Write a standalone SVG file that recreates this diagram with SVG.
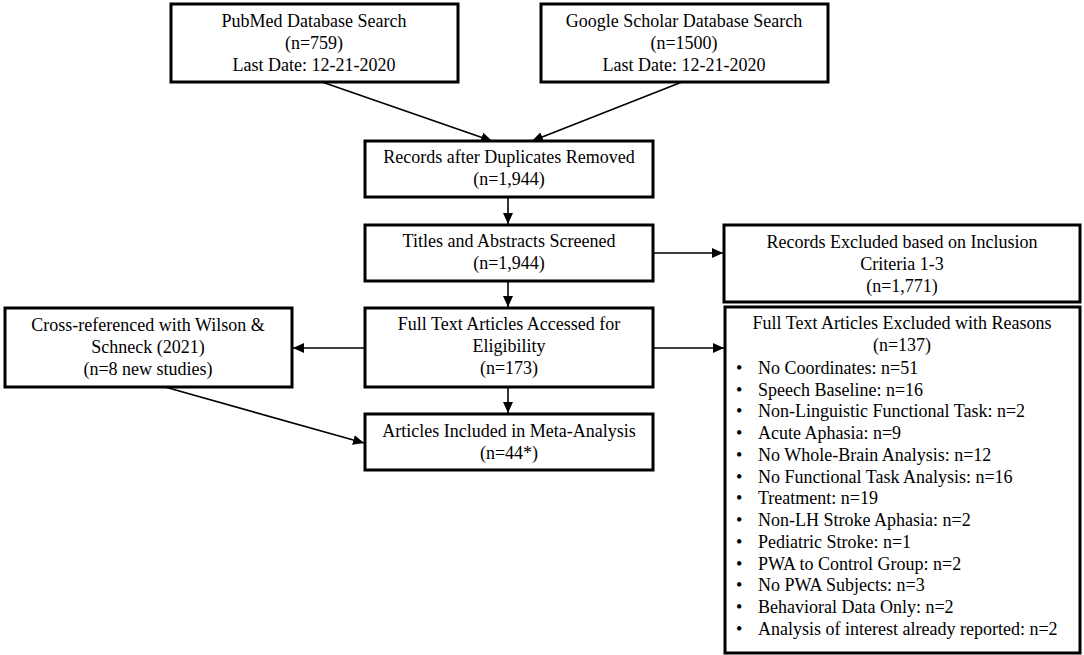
<svg xmlns="http://www.w3.org/2000/svg" width="1084" height="655" viewBox="0 0 1084 655">
<style>
.box{fill:#fff;stroke:#000;stroke-width:3}
text{font-family:"Liberation Serif","Times New Roman",serif;font-size:18px;fill:#000}
.c{text-anchor:middle}
.ln{stroke:#000;stroke-width:1.6;fill:none}
</style>
<defs>
<marker id="ah" markerUnits="userSpaceOnUse" markerWidth="12" markerHeight="10" refX="11" refY="5" orient="auto">
<path d="M0,0 L11,5 L0,10 Z" fill="#000"/>
</marker>
</defs>
<rect width="1084" height="655" fill="#fff"/>
<g id="connectors">
<line class="ln" x1="322" y1="82" x2="492" y2="141" marker-end="url(#ah)"/>
<line class="ln" x1="682" y1="82" x2="532" y2="141" marker-end="url(#ah)"/>
<line class="ln" x1="508" y1="197" x2="508" y2="224" marker-end="url(#ah)"/>
<line class="ln" x1="508" y1="281" x2="508" y2="307" marker-end="url(#ah)"/>
<line class="ln" x1="653" y1="253" x2="723" y2="253" marker-end="url(#ah)"/>
<line class="ln" x1="365" y1="348" x2="293" y2="348" marker-end="url(#ah)"/>
<line class="ln" x1="653" y1="348" x2="724" y2="348" marker-end="url(#ah)"/>
<line class="ln" x1="508" y1="387" x2="508" y2="413" marker-end="url(#ah)"/>
<line class="ln" x1="165" y1="387" x2="364" y2="443" marker-end="url(#ah)"/>
</g>
<g id="pubmed">
<rect class="box" x="171" y="4" width="287" height="78"/>
<text class="c" x="314" y="27">PubMed Database Search</text>
<text class="c" x="314" y="49">(n=759)</text>
<text class="c" x="314" y="71">Last Date: 12-21-2020</text>
</g>
<g id="scholar">
<rect class="box" x="541" y="4" width="287" height="78"/>
<text class="c" x="684" y="27">Google Scholar Database Search</text>
<text class="c" x="684" y="49">(n=1500)</text>
<text class="c" x="684" y="71">Last Date: 12-21-2020</text>
</g>
<g id="records">
<rect class="box" x="365" y="141" width="288" height="56"/>
<text class="c" x="509" y="163">Records after Duplicates Removed</text>
<text class="c" x="509" y="185">(n=1,944)</text>
</g>
<g id="titles">
<rect class="box" x="365" y="225" width="288" height="56"/>
<text class="c" x="509" y="247">Titles and Abstracts Screened</text>
<text class="c" x="509" y="269">(n=1,944)</text>
</g>
<g id="excluded1">
<rect class="box" x="724" y="225" width="356" height="77"/>
<text class="c" x="902" y="248">Records Excluded based on Inclusion</text>
<text class="c" x="902" y="270">Criteria 1-3</text>
<text class="c" x="902" y="292">(n=1,771)</text>
</g>
<g id="fulltext">
<rect class="box" x="365" y="308" width="288" height="79"/>
<text class="c" x="509" y="330">Full Text Articles Accessed for</text>
<text class="c" x="509" y="352">Eligibility</text>
<text class="c" x="509" y="374">(n=173)</text>
</g>
<g id="crossref">
<rect class="box" x="5" y="308" width="287" height="79"/>
<text class="c" x="148" y="331">Cross-referenced with Wilson &amp;</text>
<text class="c" x="148" y="353">Schneck (2021)</text>
<text class="c" x="148" y="375">(n=8 new studies)</text>
</g>
<g id="included">
<rect class="box" x="365" y="414" width="288" height="56"/>
<text class="c" x="509" y="437">Articles Included in Meta-Analysis</text>
<text class="c" x="509" y="459">(n=44*)</text>
</g>
<g id="excluded2">
<rect class="box" x="725" y="307" width="355" height="346"/>
<text class="c" x="902" y="329">Full Text Articles Excluded with Reasons</text>
<text class="c" x="902" y="351">(n=137)</text>
<g>
<text x="736" y="374">•</text><text x="758" y="374">No Coordinates: n=51</text>
<text x="736" y="396">•</text><text x="758" y="396">Speech Baseline: n=16</text>
<text x="736" y="417">•</text><text x="758" y="417">Non-Linguistic Functional Task: n=2</text>
<text x="736" y="439">•</text><text x="758" y="439">Acute Aphasia: n=9</text>
<text x="736" y="461">•</text><text x="758" y="461">No Whole-Brain Analysis: n=12</text>
<text x="736" y="483">•</text><text x="758" y="483">No Functional Task Analysis: n=16</text>
<text x="736" y="504">•</text><text x="758" y="504">Treatment: n=19</text>
<text x="736" y="526">•</text><text x="758" y="526">Non-LH Stroke Aphasia: n=2</text>
<text x="736" y="548">•</text><text x="758" y="548">Pediatric Stroke: n=1</text>
<text x="736" y="570">•</text><text x="758" y="570">PWA to Control Group: n=2</text>
<text x="736" y="591">•</text><text x="758" y="591">No PWA Subjects: n=3</text>
<text x="736" y="613">•</text><text x="758" y="613">Behavioral Data Only: n=2</text>
<text x="736" y="635">•</text><text x="758" y="635">Analysis of interest already reported: n=2</text>
</g>
</g>
</svg>
